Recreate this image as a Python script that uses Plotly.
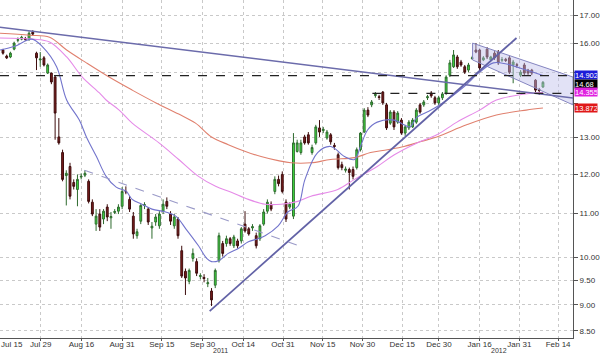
import math
import plotly.graph_objects as go

# ---------------- data ----------------
OPEN = [15.76,15.55,15.52,15.79,16.10,16.14,16.16,16.14,16.39,15.65,
        15.42,15.49,14.98,14.98,14.85,13.02,12.58,11.96,12.20,11.78,
        11.60,11.92,11.97,11.81,11.28,10.75,10.99,10.87,11.16,10.90,
        11.03,11.06,11.18,11.55,11.35,10.94,10.48,10.82,11.20,11.11,
        10.66,10.80,10.71,11.06,11.30,10.99,10.71,10.87,10.14,9.69,
        9.48,9.97,9.90,9.58,9.56,9.43,9.28,9.40,9.92,10.30,
        10.30,10.41,10.25,10.36,10.36,10.75,10.64,10.66,10.48,10.41,
        10.75,11.06,11.23,11.55,11.86,11.99,11.28,11.16,10.94,12.61,
        12.58,13.02,13.08,12.58,12.85,13.28,13.20,12.99,13.08,12.78,
        12.52,12.25,12.10,12.12,12.12,12.17,12.66,13.16,13.81,13.97,
        14.26,14.22,14.37,13.97,13.42,13.75,13.45,13.51,13.13,13.28,
        13.31,13.45,13.97,13.97,14.19,14.34,14.19,14.03,14.19,14.34,
        14.91,15.19,15.52,15.35,15.19,15.08,15.47,15.76,15.76,15.42,
        15.79,15.42,15.65,15.69,15.41,15.44,15.49,15.25,15.26,14.91,
        15.25,15.08,15.08,14.75,14.45,14.53]
HIGH = [15.80,15.60,15.70,16.05,16.20,16.26,16.22,16.42,16.46,15.70,
        15.69,15.55,15.30,15.00,14.90,13.57,12.66,12.10,12.30,11.86,
        11.99,12.02,12.10,11.86,11.35,11.11,11.11,11.11,11.23,11.04,
        11.11,11.23,11.66,11.68,11.43,11.04,10.64,11.23,11.28,11.16,
        10.80,10.99,11.06,11.35,11.40,11.06,10.99,10.92,10.25,9.75,
        9.75,10.19,9.97,9.65,9.63,9.55,9.34,9.75,10.55,10.36,
        10.48,10.45,10.50,10.41,10.68,11.06,10.68,10.75,10.55,10.75,
        11.11,11.35,11.30,11.94,11.96,12.07,11.35,11.28,13.13,12.94,
        12.94,13.08,13.16,12.80,13.37,13.51,13.31,13.22,13.13,12.85,
        12.58,12.33,12.20,12.17,12.20,12.72,13.16,13.87,13.90,14.12,
        14.37,14.28,14.40,14.03,13.81,13.81,13.78,13.57,13.37,13.51,
        13.57,13.87,14.03,14.12,14.28,14.40,14.25,14.25,14.37,14.91,
        15.42,15.76,15.59,15.42,15.25,15.32,15.56,16.00,15.80,15.55,
        15.86,15.56,15.72,15.76,15.52,15.49,15.56,15.42,15.32,15.08,
        15.32,15.12,15.12,14.78,14.50,14.72]
LOW = [15.60,15.45,15.48,15.75,16.03,16.10,16.08,16.08,16.28,15.08,
       15.19,15.20,14.95,14.62,12.94,12.80,11.81,11.20,11.35,11.60,
       11.18,11.86,11.92,11.25,10.94,10.59,10.59,10.75,10.82,10.64,
       10.99,10.99,11.11,11.48,11.04,10.41,10.41,10.75,11.11,10.73,
       10.41,10.71,10.64,10.99,11.11,10.73,10.64,10.41,9.55,9.20,
       9.42,9.90,9.59,9.52,9.46,9.36,8.98,9.34,9.88,10.01,
       10.23,10.25,10.20,10.19,10.30,10.55,10.48,10.59,10.19,10.36,
       10.71,11.00,11.06,11.48,11.68,11.50,10.80,11.11,10.87,12.58,
       12.52,12.80,12.80,12.52,12.80,13.02,13.13,12.94,12.80,12.66,
       12.12,12.10,12.04,11.60,11.86,12.12,12.61,13.13,13.60,13.90,
       14.19,14.12,13.97,13.22,13.37,13.22,13.40,13.08,13.05,13.22,
       13.28,13.40,13.70,13.91,14.12,14.19,13.97,13.97,14.12,14.28,
       14.85,15.15,15.12,15.19,14.95,15.01,15.42,15.65,15.08,15.38,
       15.45,15.38,15.42,15.25,15.35,15.35,14.95,14.65,15.15,14.85,
       14.91,14.91,14.91,14.37,14.28,14.50]
CLOSE = [15.65,15.49,15.65,16.00,16.12,16.21,16.13,16.35,16.32,15.49,
         15.45,15.25,15.25,14.69,13.72,12.85,11.86,12.02,11.43,11.68,
         11.86,11.94,12.02,11.30,10.99,10.94,10.68,11.06,10.92,10.93,
         11.05,11.16,11.55,11.54,11.11,10.52,10.57,11.20,11.22,10.80,
         10.70,10.92,10.99,11.23,11.18,10.82,10.92,10.48,9.59,9.55,
         9.71,10.08,9.65,9.60,9.54,9.45,9.10,9.71,10.48,10.08,
         10.41,10.30,10.45,10.25,10.64,10.59,10.52,10.69,10.25,10.71,
         11.04,11.28,11.11,11.86,11.75,11.55,10.87,11.23,12.85,12.85,
         12.85,12.85,12.85,12.72,13.31,13.16,13.24,13.16,12.88,12.75,
         12.17,12.17,12.13,12.04,11.94,12.66,13.13,13.81,13.66,14.06,
         14.29,14.20,14.03,13.28,13.75,13.31,13.72,13.13,13.31,13.45,
         13.51,13.81,13.75,14.06,14.22,14.25,14.03,14.19,14.31,14.85,
         15.32,15.59,15.19,15.25,15.01,15.25,15.49,15.69,15.15,15.49,
         15.52,15.52,15.49,15.32,15.43,15.40,15.01,15.35,15.24,15.01,
         14.98,14.98,14.98,14.43,14.42,14.68]

# moving averages sampled along the chart (trading-day index, price)
MA_BLUE_X = [-0.8,3.2,7.7,10.7,14.4,17.1,20.5,22.4,25.1,27.7,30.4,33.1,34.7,37.3,40,43.7,46.4,
             49.1,52.5,54.7,56,57.9,60.5,63.2,65.9,68.5,70.4,73.9,76.5,79.2,81.1,84.5,88,91.7,
             94.4,96,97.9,100.5,105.1,107.7,109.3,111.2,113.9,116.5,119.2,123.7,128,131.7,
             135.2,140.5,145]
MA_BLUE_Y = [15.76,15.89,16.14,15.86,15.19,14.12,13.51,13.02,12.47,11.94,11.66,11.55,11.35,
             11.23,11.11,11.04,10.94,10.64,10.25,9.97,9.90,9.92,10.08,10.19,10.34,10.41,10.48,
             10.71,11.04,11.18,11.86,12.58,12.75,12.47,12.39,12.75,13.22,13.45,13.51,13.37,
             13.31,13.60,13.75,13.91,14.12,14.53,15.01,15.32,15.28,15.08,14.90]
MA_PINK_X = [-0.8,8,12.5,17.1,21.3,25.9,27.7,31.2,34.7,41.9,47.2,52.5,57.1,61.3,65.9,70.4,
             74.7,79.2,82.7,89.9,94.4,100.5,105.1,111.2,116.5,121.9,128,132.5,139.7,145]
MA_PINK_Y = [16.18,16.14,16.04,15.52,14.85,14.34,14.12,13.81,13.42,12.85,12.39,11.94,11.68,
             11.53,11.35,11.23,11.23,11.30,11.43,11.60,11.86,12.20,12.52,12.85,13.08,13.45,
             13.81,14.12,14.30,14.355]
MA_RED_X = [-0.8,7.2,12.5,17.1,22.4,28.5,34.7,41.1,47.2,51.7,56,60.5,65.1,69.3,73.9,77.3,
            82.7,88,94.4,98.7,103.2,107.7,112,116.5,124.5,132.5,140.5,145]
MA_RED_Y = [16.35,16.28,16.21,15.76,15.32,14.85,14.43,14.03,13.69,13.42,13.02,12.80,12.61,
            12.47,12.36,12.30,12.30,12.39,12.44,12.58,12.66,12.75,12.88,13.02,13.37,13.66,
            13.81,13.872]

# drawn trend lines / levels (index, price)
TL_UPPER_X, TL_UPPER_Y = [-0.8, 153.07], [16.57, 14.18]
TL_RISE_X, TL_RISE_Y = [55.5, 137.9], [8.88, 16.18]
TL_DASH_X, TL_DASH_Y = [21.9, 80.5], [12.10, 10.22]
LEVEL_HI, LEVEL_HI_X = 14.90, [-0.8, 153.07]
LEVEL_LO, LEVEL_LO_X = 14.33, [99.2, 153.07]
CHANNEL_X = [126.1, 153.07, 153.07, 126.1, 126.1]
CHANNEL_Y = [16.00, 14.85, 13.97, 15.42, 16.00]

# axis
X_RANGE = [-0.8, 153.07]
Y_RANGE = [8.37, 17.59]
X_TICK_POS = [10.13, 21.07, 32, 42.67, 53.6, 64.53, 75.2, 85.87, 96.53, 107.2, 117.07, 128, 138.67, 149.07]
X_TICK_TEXT = ["Jul 29", "Aug 16", "Aug 31", "Sep 15", "Sep 30", "Oct 14", "Oct 31", "Nov 15",
               "Nov 30", "Dec 15", "Dec 30", "Jan 16", "Jan 31", "Feb 14"]
Y_TICKS = [8.5, 9.0, 9.5, 10.0, 11.0, 12.0, 13.0, 14.0, 15.0, 16.0, 17.0]
Y_TICK_TEXT = ["8.50", "9.00", "9.50", "10.00", "11.00", "12.00", "13.00", "", "", "16.00", "17.00"]
TAG_VALUES = [14.902, 14.68, 14.355, 13.872]
TAG_TEXT = ["14.902", "14.68", "14.355", "13.872"]
TAG_COLORS = ["#1c1cd8", "#000000", "#e020e0", "#e01818"]
TAG_NUDGE = [0, -2, 0, 0]
YEAR_POS = [58.5, 133.3]
YEAR_TEXT = ["2011", "2012"]

# ---------------- figure ----------------
fig = go.Figure()

fig.add_trace(go.Scatter(x=CHANNEL_X, y=CHANNEL_Y, mode="lines", fill="toself",
                         fillcolor="rgba(190,190,235,0.45)",
                         line=dict(color="#8585c0", width=1), hoverinfo="skip", showlegend=False))

for xs, ys, col in [(MA_RED_X, MA_RED_Y, "#e0806e"), (MA_PINK_X, MA_PINK_Y, "#e58ae8"),
                    (MA_BLUE_X, MA_BLUE_Y, "#7274cc")]:
    fig.add_trace(go.Scatter(x=xs, y=ys, mode="lines", line=dict(color=col, width=1.1, shape="spline"),
                             hoverinfo="skip", showlegend=False))

n = len(CLOSE)
fig.add_trace(go.Candlestick(
    x=list(range(n)), open=OPEN, high=HIGH, low=LOW, close=CLOSE,
    increasing=dict(line=dict(color="#2e6b2e", width=1), fillcolor="#3fe03f"),
    decreasing=dict(line=dict(color="#3d0c0c", width=1), fillcolor="#7d1d1d"),
    whiskerwidth=0, showlegend=False))

fig.add_trace(go.Scatter(x=TL_UPPER_X, y=TL_UPPER_Y, mode="lines",
                         line=dict(color="#6b6bab", width=1.5), hoverinfo="skip", showlegend=False))
fig.add_trace(go.Scatter(x=TL_RISE_X, y=TL_RISE_Y, mode="lines",
                         line=dict(color="#6262a6", width=1.8), hoverinfo="skip", showlegend=False))
fig.add_trace(go.Scatter(x=TL_DASH_X, y=TL_DASH_Y, mode="lines",
                         line=dict(color="#9a9ac8", width=1.1, dash="dash"), hoverinfo="skip", showlegend=False))
fig.add_trace(go.Scatter(x=LEVEL_HI_X, y=[LEVEL_HI, LEVEL_HI], mode="lines",
                         line=dict(color="#222222", width=1.3, dash="dash"), hoverinfo="skip", showlegend=False))
fig.add_trace(go.Scatter(x=LEVEL_LO_X, y=[LEVEL_LO, LEVEL_LO], mode="lines",
                         line=dict(color="#222222", width=1.3, dash="dash"), hoverinfo="skip", showlegend=False))

annotations = []
for v, t, c, s in zip(TAG_VALUES, TAG_TEXT, TAG_COLORS, TAG_NUDGE):
    annotations.append(dict(xref="paper", x=1, xanchor="left", xshift=1, yref="y", y=math.log10(v),
                            yshift=s, text=t, showarrow=False, bgcolor=c, borderpad=0,
                            font=dict(family="Liberation Sans", size=7.5, color="white"),
                            width=22, height=8, align="left"))
annotations.append(dict(xref="x", x=2.4, yref="paper", y=0, yanchor="middle", yshift=-6, text="Jul 15",
                        showarrow=False, font=dict(family="Liberation Sans", size=8, color="#333")))
for xp, t in zip(YEAR_POS, YEAR_TEXT):
    annotations.append(dict(xref="x", x=xp, yref="paper", y=0, yanchor="middle", yshift=-12.5, text=t,
                            showarrow=False, font=dict(family="Liberation Sans", size=7, color="#333")))

fig.update_layout(
    width=600, height=353, margin=dict(l=0, r=23, t=0, b=15),
    paper_bgcolor="white", plot_bgcolor="white", showlegend=False,
    font=dict(family="Liberation Sans", size=8, color="#333"),
    annotations=annotations,
    xaxis=dict(type="linear", range=X_RANGE, rangeslider=dict(visible=False),
               tickmode="array", tickvals=X_TICK_POS, ticktext=X_TICK_TEXT,
               showgrid=True, gridcolor="#c9c9c9", griddash="dot", gridwidth=1,
               showline=True, linecolor="#555", linewidth=1, ticks="outside", ticklen=2,
               tickcolor="#555", zeroline=False, ticklabelstandoff=-4,
               tickfont=dict(size=8, color="#333")),
    yaxis=dict(type="log", side="right", range=[math.log10(Y_RANGE[0]), math.log10(Y_RANGE[1])],
               tickmode="array", tickvals=Y_TICKS, ticktext=Y_TICK_TEXT,
               showgrid=True, gridcolor="#c9c9c9", griddash="dot", gridwidth=1,
               showline=True, linecolor="#555", linewidth=1, ticks="outside", ticklen=4,
               tickcolor="#555", zeroline=False, tickfont=dict(size=8, color="#333")),
)

fig.write_html("out.html")
